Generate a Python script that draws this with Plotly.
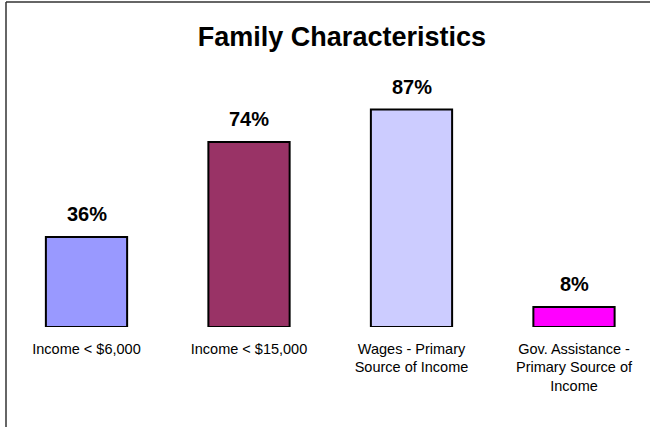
import plotly.graph_objects as go

categories = ["Income < $6,000", "Income < $15,000", "Wages - Primary<br>Source of Income",
              "Gov. Assistance -<br>Primary Source of<br>Income"]
values = [36, 74, 87, 8]
labels = ["36%", "74%", "87%", "8%"]
colors = ["#9999FF", "#993366", "#CCCCFF", "#FF00FF"]

xs = list(range(len(categories)))
FONT = "Arial, Liberation Sans, sans-serif"

fig = go.Figure()
fig.add_trace(go.Bar(
    x=xs, y=values, width=0.5,
    marker=dict(color=colors, line=dict(color="black", width=2)),
    hoverinfo="skip",
))

for x, v, t in zip(xs, values, labels):
    fig.add_annotation(x=x, y=v, text="<b>%s</b>" % t, showarrow=False,
                       yanchor="bottom", yshift=10,
                       font=dict(family=FONT, size=20, color="black"))

# chart border (left and top edges visible)
fig.add_shape(type="line", xref="paper", yref="paper", x0=0, x1=0, y0=-0.6, y1=1.3,
              line=dict(color="#333333", width=1.5))
fig.add_shape(type="line", xref="paper", yref="paper", x0=0, x1=1.2, y0=1.3, y1=1.3,
              line=dict(color="#333333", width=1.5))

fig.update_layout(
    width=650, height=427,
    margin=dict(l=6, r=0, t=77, b=100),
    paper_bgcolor="white", plot_bgcolor="white",
    showlegend=False,
    hovermode=False,
    title=dict(text="<b>Family Characteristics</b>", x=0.526, xanchor="center",
               y=1 - 37 / 427, yanchor="middle",
               font=dict(family=FONT, size=27, color="black")),
    xaxis=dict(range=[-0.4954, 3.4677], tickvals=xs, ticktext=categories,
               showgrid=False, zeroline=False, showline=False, ticks="",
               ticklabelstandoff=11, fixedrange=True,
               tickfont=dict(family=FONT, size=14.5, color="black")),
    yaxis=dict(range=[0, 100], visible=False, showgrid=False, zeroline=False,
               fixedrange=True),
)

fig.write_html("out.html", config={"displayModeBar": False},
               post_script="document.body.style.margin='0';")
